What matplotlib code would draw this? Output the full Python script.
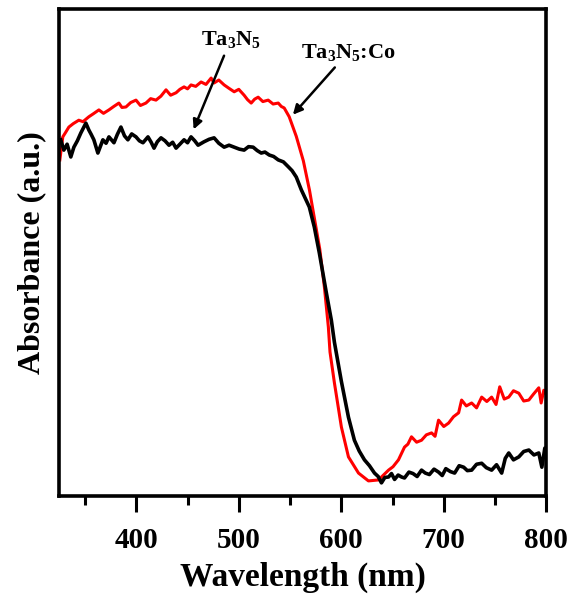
import numpy as np
import matplotlib.pyplot as plt
from matplotlib.ticker import MultipleLocator

plt.rcParams['font.family'] = 'Liberation Serif'
plt.rcParams['font.weight'] = 'bold'
plt.rcParams['mathtext.fontset'] = 'custom'
plt.rcParams['mathtext.rm'] = 'Liberation Serif:bold'
plt.rcParams['mathtext.bf'] = 'Liberation Serif:bold'
plt.rcParams['mathtext.it'] = 'Liberation Serif:bold'

# -----------------------------
# Data
# -----------------------------
wl_co = [325.4, 328.3, 331.0, 334.2, 338.5, 343.9, 348.0, 353.7, 358.0, 363.5,
         368.0, 373.3, 378.0, 383.0, 386.0, 389.9, 394.5, 399.7, 404.0, 409.4,
         414.0, 419.2, 424.0, 429.0, 433.5, 438.8, 442.5, 446.6, 450.0, 453.4,
         458.0, 463.2, 468.0, 473.0, 475.9, 480.5, 485.7, 490.5, 495.5, 500.0,
         505.2, 508.5, 512.1, 515.5, 518.9, 523.5, 528.7, 533.5, 538.5, 541.5,
         544.3, 549.2, 556.1, 563.0, 569.0, 574.0, 579.0, 583.5, 587.4, 589.0,
         593.3, 600.1, 607.0, 616.8, 626.5, 636.3, 646.1, 650.5, 655.8, 661.7,
         665.0, 668.5, 673.5, 678.3, 683.0, 688.1, 691.5, 694.9, 700.0, 704.7,
         709.5, 714.5, 717.4, 722.0, 727.2, 732.0, 737.0, 742.0, 746.7, 751.0,
         754.6, 759.0, 763.4, 768.0, 773.2, 778.0, 783.0, 787.5, 792.7, 795.0,
         797.6, 800.0]
abs_co = [0.692, 0.739, 0.748, 0.759, 0.766, 0.773, 0.770, 0.780, 0.786, 0.794,
          0.787, 0.794, 0.801, 0.808, 0.799, 0.800, 0.809, 0.814, 0.803, 0.808,
          0.817, 0.814, 0.822, 0.835, 0.824, 0.829, 0.836, 0.841, 0.837, 0.845,
          0.842, 0.851, 0.846, 0.859, 0.849, 0.855, 0.845, 0.838, 0.831, 0.836,
          0.824, 0.815, 0.808, 0.816, 0.820, 0.811, 0.814, 0.806, 0.808, 0.801,
          0.798, 0.780, 0.740, 0.690, 0.630, 0.570, 0.510, 0.433, 0.351, 0.300,
          0.237, 0.147, 0.086, 0.053, 0.037, 0.039, 0.059, 0.066, 0.080, 0.106,
          0.112, 0.127, 0.116, 0.120, 0.131, 0.135, 0.128, 0.161, 0.148, 0.155,
          0.168, 0.176, 0.202, 0.190, 0.196, 0.186, 0.208, 0.199, 0.208, 0.193,
          0.229, 0.204, 0.208, 0.221, 0.216, 0.200, 0.202, 0.214, 0.227, 0.196,
          0.222, 0.214]

wl_pure = [326.3, 329.3, 332.5, 336.1, 339.1, 342.5, 345.9, 350.8, 353.7, 356.0,
           358.6, 362.5, 367.4, 370.5, 373.3, 378.2, 381.5, 385.0, 388.5, 391.8,
           395.5, 399.7, 403.0, 406.5, 411.4, 414.5, 417.3, 420.5, 424.1, 428.0,
           431.9, 435.5, 438.8, 442.5, 446.6, 450.0, 453.4, 457.0, 460.3, 466.1,
           471.0, 475.9, 480.5, 485.7, 490.5, 495.5, 500.5, 505.2, 509.5, 514.0,
           518.0, 521.9, 525.5, 529.7, 534.0, 538.5, 543.5, 548.3, 552.0, 556.1,
           561.0, 568.8, 573.7, 578.6, 585.5, 590.3, 593.3, 600.1, 607.0, 612.8,
           617.5, 622.6, 627.5, 632.4, 636.0, 639.2, 642.5, 646.1, 649.0, 652.0,
           655.5, 658.8, 661.7, 666.0, 670.0, 674.0, 678.3, 682.0, 686.0, 690.5,
           694.9, 698.5, 702.0, 706.5, 710.6, 715.0, 719.4, 723.0, 727.2, 732.0,
           737.0, 741.5, 746.7, 751.5, 756.5, 760.0, 763.4, 768.0, 773.2, 778.0,
           783.0, 788.0, 792.7, 795.7, 798.6, 800.0]
abs_pure = [0.733, 0.712, 0.724, 0.698, 0.718, 0.731, 0.747, 0.767, 0.753, 0.744,
            0.733, 0.706, 0.733, 0.726, 0.739, 0.727, 0.744, 0.759, 0.741, 0.733,
            0.745, 0.739, 0.731, 0.727, 0.739, 0.728, 0.716, 0.729, 0.737, 0.731,
            0.722, 0.728, 0.716, 0.724, 0.733, 0.727, 0.739, 0.731, 0.722, 0.729,
            0.734, 0.737, 0.726, 0.718, 0.722, 0.718, 0.714, 0.712, 0.719, 0.718,
            0.711, 0.706, 0.708, 0.702, 0.699, 0.692, 0.688, 0.678, 0.670, 0.657,
            0.631, 0.596, 0.555, 0.502, 0.420, 0.365, 0.320, 0.240, 0.167, 0.120,
            0.098, 0.080, 0.068, 0.053, 0.046, 0.033, 0.044, 0.045, 0.052, 0.040,
            0.049, 0.045, 0.043, 0.055, 0.052, 0.046, 0.059, 0.053, 0.050, 0.061,
            0.055, 0.048, 0.062, 0.056, 0.053, 0.068, 0.065, 0.058, 0.059, 0.071,
            0.073, 0.064, 0.059, 0.070, 0.053, 0.083, 0.094, 0.080, 0.086, 0.097,
            0.100, 0.090, 0.094, 0.065, 0.104, 0.090]

fig = plt.figure(figsize=(5.72, 5.97), dpi=100)
ax = fig.add_axes([0.103, 0.169, 0.852, 0.816])

ax.plot(wl_co, abs_co, color='red', lw=2.2)
ax.plot(wl_pure, abs_pure, color='black', lw=2.6)

ax.set_xlim(324.5, 800)
ax.set_ylim(0.006, 1.0)

ax.xaxis.set_major_locator(MultipleLocator(100))
ax.xaxis.set_minor_locator(MultipleLocator(50))
ax.set_yticks([])
ax.tick_params(axis='x', which='major', direction='out', length=11.5, width=2.2,
               labelsize=21, pad=11)
ax.tick_params(axis='x', which='minor', direction='out', length=6.5, width=2.2)
for sp in ax.spines.values():
    sp.set_linewidth(2.6)

ax.set_xlabel('Wavelength (nm)', fontsize=24, fontweight='bold', labelpad=5)
ax.set_ylabel('Absorbance (a.u.)', fontsize=23, fontweight='bold', labelpad=9)

arrow = dict(arrowstyle='-|>', color='black', lw=1.8, mutation_scale=14)
ax.annotate(r'Ta$_3$N$_5$', xy=(454.9, 0.749), xytext=(492, 0.937),
            ha='center', va='center', fontsize=16, fontweight='bold',
            arrowprops=arrow)
ax.annotate(r'Ta$_3$N$_5$:Co', xy=(551, 0.78), xytext=(607, 0.912),
            ha='center', va='center', fontsize=16, fontweight='bold',
            arrowprops=arrow)

fig.savefig('out.png', dpi=100)
